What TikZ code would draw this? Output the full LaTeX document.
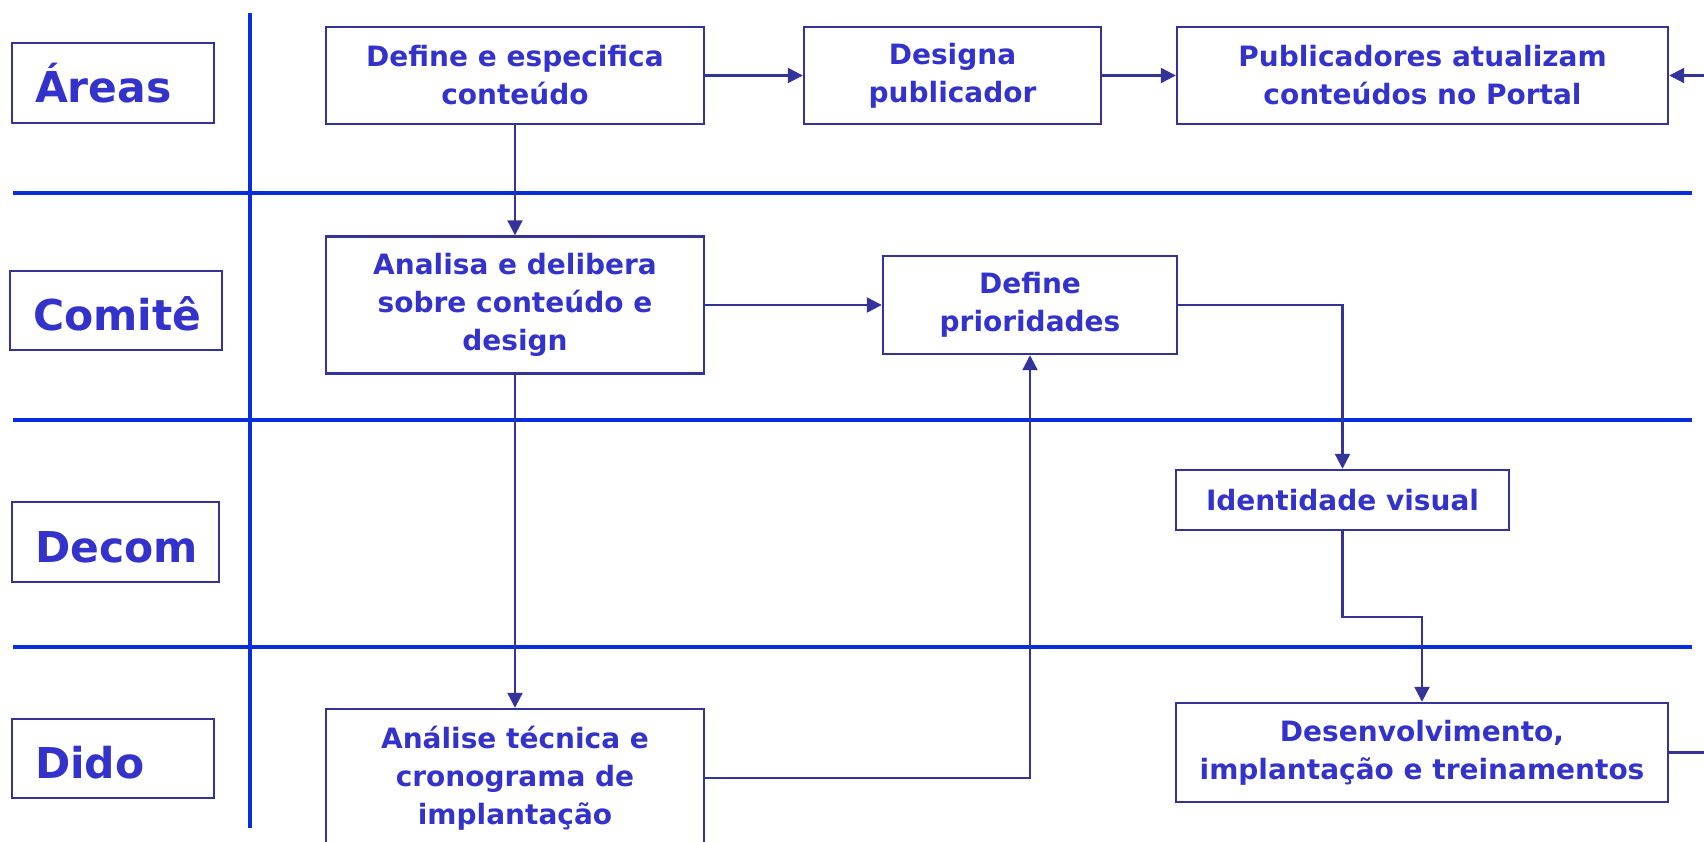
\documentclass[tikz,border=0pt]{standalone}
\usepackage{fontspec}
\setmainfont{DejaVu Sans}
\usetikzlibrary{arrows.meta}
\definecolor{txtc}{RGB}{51,51,204}
\definecolor{boxc}{RGB}{51,51,153}
\definecolor{lanec}{RGB}{8,45,220}
\tikzset{
  stepbox/.style={draw=boxc, line width=2.4pt, text=txtc, align=center,
    inner sep=0pt, font=\fontsize{28}{38}\selectfont\bfseries},
  lanebox/.style={draw=boxc, line width=2.4pt, text=txtc, align=left,
    inner xsep=23pt, inner ysep=0pt, text height=40pt, text depth=0pt,
    font=\fontsize{42.5}{50}\selectfont\bfseries},
  laneline/.style={draw=lanec, line width=4.5pt},
  arr/.style={draw=boxc, line width=2.2pt, -{Triangle[length=15pt,width=15pt]}},
}
\begin{document}
\begin{tikzpicture}[x=1pt,y=-1pt]
\useasboundingbox (0,0) rectangle (1704,842);
% lanes
\draw[laneline] (250,13) -- (250,828);
\draw[laneline] (13,193) -- (1692,193);
\draw[laneline] (13,420) -- (1692,420);
\draw[laneline] (13,647) -- (1692,647);
% lane labels
\node[lanebox, text width=156pt, minimum height=80pt] (lA) at (113,83) {Áreas};
\node[lanebox, text width=166pt, minimum height=79pt] (lC) at (116,310.5) {Comitê};
\node[lanebox, text width=161pt, minimum height=80pt] (lD) at (115.5,542) {Decom};
\node[lanebox, text width=156pt, minimum height=79pt] (lE) at (113,758.5) {Dido};
% step boxes
\node[stepbox, minimum width=378pt, minimum height=97pt] (def) at (515,75.5) {Define e especifica\\conteúdo};
\node[stepbox, minimum width=297pt, minimum height=97pt] (des) at (952.5,75.5) {Designa\\publicador};
\node[stepbox, minimum width=491pt, minimum height=97pt] (pub) at (1422.5,75.5) {Publicadores atualizam\\conteúdos no Portal};
\node[stepbox, minimum width=378pt, minimum height=137pt] (ana) at (515,305) {Analisa e delibera\\sobre conteúdo e\\design};
\node[stepbox, minimum width=294pt, minimum height=98pt] (pri) at (1030,305) {Define\\prioridades};
\node[stepbox, minimum width=333pt, minimum height=60pt] (ident) at (1342.5,500) {Identidade visual};
\node[stepbox, minimum width=492pt, minimum height=99pt] (dev) at (1422,752.5) {Desenvolvimento,\\implantação e treinamentos};
\node[stepbox, minimum width=378pt, minimum height=138pt] (tec) at (515,778) {Análise técnica e\\cronograma de\\implantação};
% helper coordinates
\coordinate (m1) at (1382,617);
\coordinate (rr) at (1725,400);
% connectors
\draw[arr] (def.south) -- (ana.north);
\draw[arr] (def.east) -- (des.west);
\draw[arr] (des.east) -- (pub.west);
\draw[arr] (ana.east) -- (pri.west);
\draw[arr] (pri.east) -| (ident.north);
\draw[arr] (ident.south) |- (m1) -| (dev.north);
\draw[arr] (ana.south) -- (tec.north);
\draw[arr] (tec.east) -| (pri.south);
\draw[arr] (dev.east) -| (rr) |- (pub.east);
\end{tikzpicture}
\end{document}
